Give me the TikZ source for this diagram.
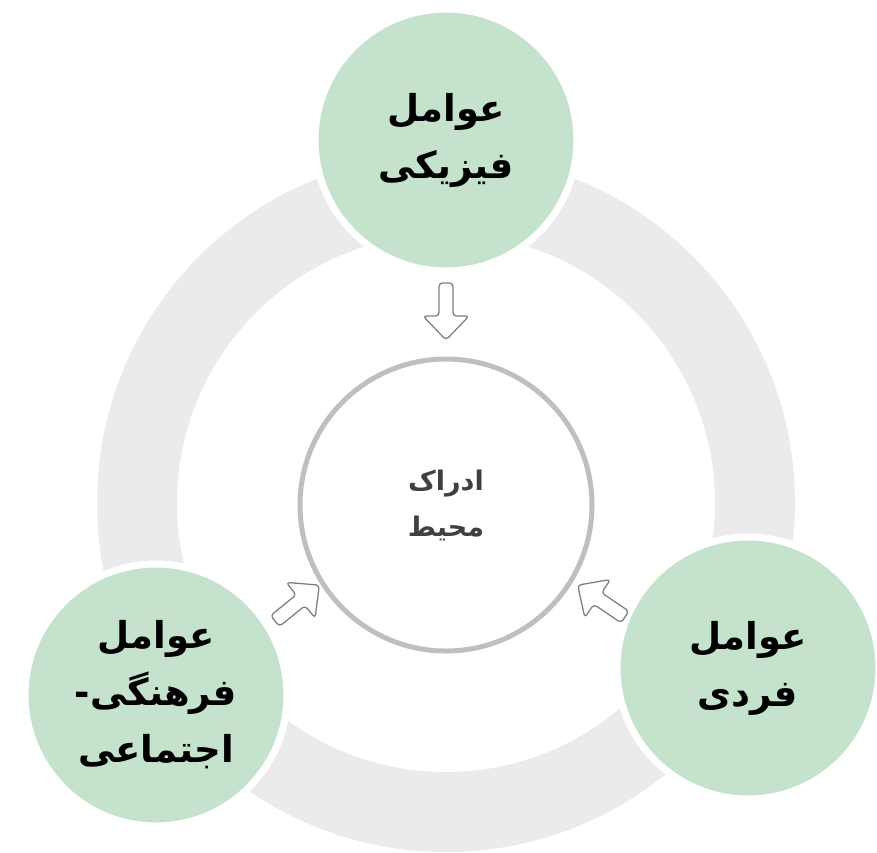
\documentclass[tikz,border=0pt]{standalone}
\usepackage{fontspec}
\newfontfamily\arabicfont[Script=Arabic]{DejaVu Sans}
\TeXXeTstate=1
\definecolor{ringgray}{RGB}{235,235,235}
\definecolor{leafgreen}{RGB}{197,226,205}
\definecolor{rimgray}{RGB}{191,191,191}
\definecolor{arrowgray}{RGB}{128,128,128}
\definecolor{textgray}{RGB}{64,64,64}
\begin{document}
\begin{tikzpicture}[x=1pt,y=-1pt,
  leaf/.style={circle,fill=leafgreen,draw=white,line width=7pt,minimum size=262pt,inner sep=0pt,
    align=center,font=\arabicfont\bfseries\fontsize{37}{57}\selectfont},
  hub/.style={circle,fill=white,draw=rimgray,line width=5pt,minimum size=292pt,inner sep=0pt,
    align=center,text=textgray,font=\arabicfont\bfseries\fontsize{27}{46}\selectfont},
  hollowarrow/.style={draw=arrowgray,fill=white,line width=1.3pt,rounded corners=3.5pt,line join=round}]
\useasboundingbox (0,0) rectangle (877,852);
% ring
\fill[ringgray,even odd rule] (446,503) circle[radius=349] (446,503) circle[radius=269];
% nodes
\node[leaf] (phys) at (446,140) {\beginR عوامل\endR\\\beginR فیزیکی\endR};
\node[leaf] (cult) at (156,695) {\beginR عوامل\endR\\\beginR فرهنگی-\endR\\\beginR اجتماعی\endR};
\node[leaf] (indiv) at (748,668) {\beginR عوامل\endR\\\beginR فردی\endR};
\node[hub] (hub) at (446,505) {\beginR ادراک\endR\\\beginR محیط\endR};
% arrow anchor coordinates
\coordinate (a1) at (446,283);
\coordinate (a2) at (275,621);
\coordinate (a3) at (625,617);
\foreach \c/\ang in {a1/-90,a2/39,a3/146}{
  \begin{scope}[shift={(\c)},rotate=\ang]
    \draw[hollowarrow] (0,-7) -- (33,-7) -- (33,-23) -- (57,0) -- (33,23) -- (33,7) -- (0,7) -- cycle;
  \end{scope}
}
\end{tikzpicture}
\end{document}
